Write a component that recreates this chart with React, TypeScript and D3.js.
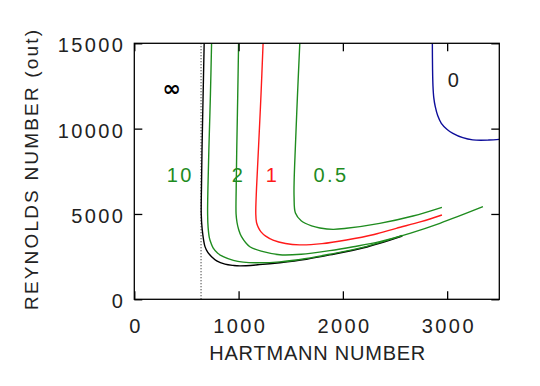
import React, { useRef, useEffect } from 'react';
import * as d3 from 'd3';

const hartmannTicks = [0, 1000, 2000, 3000];
const reynoldsTicks = [0, 5000, 10000, 15000];

// critical curves (Hartmann, Reynolds)
const infH = [670, 660, 650, 644, 642, 651, 677, 705, 741, 790, 870, 950, 1012, 1200, 1395, 1650, 1874, 2200, 2570];
const infRe = [15000, 12000, 9000, 6500, 5000, 4100, 3100, 2750, 2500, 2250, 2060, 1985, 1960, 2030, 2145, 2350, 2600, 3020, 3710];

const tenH = [741, 730, 716, 706, 703, 708, 720, 738, 757, 800, 853, 950, 1044, 1200, 1395, 1650, 1874, 2200, 2570];
const tenRe = [15000, 12000, 9000, 6500, 5000, 4200, 3600, 3250, 3000, 2700, 2500, 2280, 2180, 2140, 2190, 2390, 2640, 3060, 3750];

const twoH = [1000, 992, 983, 977, 976, 985, 1000, 1028, 1108, 1236, 1395, 1600, 1874, 2100, 2353, 2650, 2930, 3343];
const twoRe = [15000, 12000, 9000, 6500, 5000, 4500, 4100, 3670, 3080, 2790, 2610, 2640, 2850, 3080, 3380, 3880, 4450, 5425];

const oneH = [1235, 1215, 1192, 1172, 1165, 1172, 1190, 1215, 1260, 1330, 1450, 1587, 1800, 2034, 2300, 2512, 2750, 2950];
const oneRe = [15000, 12000, 9000, 6500, 5000, 4500, 4200, 3950, 3700, 3470, 3270, 3190, 3260, 3475, 3800, 4160, 4550, 4940];

const halfH = [1587, 1565, 1545, 1533, 1532, 1545, 1600, 1700, 1780, 1906, 2034, 2353, 2672, 2950];
const halfRe = [15000, 12000, 9000, 7000, 6000, 5050, 4600, 4300, 4180, 4100, 4160, 4450, 4880, 5390];

const zeroH = [2858, 2860, 2864, 2872, 2886, 2910, 2944, 3000, 3055, 3150, 3246, 3400, 3500];
const zeroRe = [15000, 13500, 12500, 11800, 11285, 10750, 10312, 9950, 9726, 9470, 9340, 9330, 9370];

const asymptoteH = 640;

const labelText = ['∞', '10', '2', '1', '0.5', '0'];
const labelH = [358, 430, 988, 1314, 1874, 3059];
const labelRe = [11900, 6900, 6900, 6900, 6900, 12450];

const GREEN = '#1f8c1f';
const FONT = '"Liberation Sans", Arial, sans-serif';

export default function App() {
    const svgRef = useRef<SVGSVGElement>(null);

    useEffect(() => {
        if (!svgRef.current) return;
        const width = 540, height = 386;
        const svg = d3.select(svgRef.current);
        svg.selectAll('*').remove();

        const margin = { top: 43.3, right: 40.7, bottom: 86.7, left: 134.3 };
        const x = d3.scaleLinear().domain([0, 3500]).range([margin.left, width - margin.right]);
        const y = d3.scaleLinear().domain([0, 15000]).range([height - margin.bottom, margin.top]);

        svg.append('defs').append('clipPath').attr('id', 'plot-clip')
            .append('rect')
            .attr('x', x(0)).attr('y', y(15000))
            .attr('width', x(3500) - x(0)).attr('height', y(0) - y(15000));

        const curves = [
            { h: infH, re: infRe, color: '#000' },
            { h: tenH, re: tenRe, color: GREEN },
            { h: twoH, re: twoRe, color: GREEN },
            { h: oneH, re: oneRe, color: '#ff1a1a' },
            { h: halfH, re: halfRe, color: GREEN },
            { h: zeroH, re: zeroRe, color: '#0d0d9a' },
        ];

        const line = d3.line<[number, number]>()
            .x(d => x(d[0]))
            .y(d => y(d[1]))
            .curve(d3.curveCatmullRom.alpha(0.5));

        const plot = svg.append('g').attr('clip-path', 'url(#plot-clip)');

        // dotted asymptote
        plot.append('line')
            .attr('x1', x(asymptoteH)).attr('x2', x(asymptoteH))
            .attr('y1', y(0)).attr('y2', y(15000))
            .attr('stroke', '#333')
            .attr('stroke-width', 1)
            .attr('stroke-dasharray', '1.2,1.8');

        plot.selectAll('path.curve')
            .data(curves)
            .join('path')
            .attr('class', 'curve')
            .attr('d', c => line(c.h.map((h, i) => [h, c.re[i]] as [number, number])))
            .attr('fill', 'none')
            .attr('stroke', c => c.color)
            .attr('stroke-width', 1.4);

        // axes: inward ticks on all four sides
        const tick = 8;
        const styleAxis = (g: d3.Selection<SVGGElement, unknown, null, undefined>) => {
            g.select('.domain').remove();
            g.selectAll('line').attr('stroke', '#000').attr('stroke-width', 1.3);
            g.selectAll('text')
                .attr('font-family', FONT)
                .attr('font-size', 20)
                .attr('letter-spacing', 2.4)
                .attr('fill', '#222');
        };

        svg.append('g')
            .attr('transform', `translate(0,${y(0)})`)
            .call(d3.axisBottom(x).tickValues(hartmannTicks).tickFormat(d3.format('d'))
                .tickSizeInner(-tick).tickSizeOuter(0).tickPadding(20))
            .call(styleAxis)
            .selectAll('text').attr('dx', 1.2);

        svg.append('g')
            .attr('transform', `translate(0,${y(15000)})`)
            .call(d3.axisTop(x).tickValues(hartmannTicks).tickFormat(() => '')
                .tickSizeInner(-tick).tickSizeOuter(0))
            .call(styleAxis);

        svg.append('g')
            .attr('transform', `translate(${x(0)},0)`)
            .call(d3.axisLeft(y).tickValues(reynoldsTicks).tickFormat(d3.format('d'))
                .tickSizeInner(-tick).tickSizeOuter(0).tickPadding(9))
            .call(styleAxis)
            .selectAll('text').attr('dy', '0.42em');

        svg.append('g')
            .attr('transform', `translate(${x(3500)},0)`)
            .call(d3.axisRight(y).tickValues(reynoldsTicks).tickFormat(() => '')
                .tickSizeInner(-tick).tickSizeOuter(0))
            .call(styleAxis);

        svg.append('rect')
            .attr('x', x(0)).attr('y', y(15000))
            .attr('width', x(3500) - x(0)).attr('height', y(0) - y(15000))
            .attr('fill', 'none')
            .attr('stroke', '#000')
            .attr('stroke-width', 1.3);

        // curve labels
        const labelColor = ['#000', GREEN, GREEN, '#ff1a1a', GREEN, '#222'];
        svg.selectAll('text.curve-label')
            .data(labelText)
            .join('text')
            .attr('class', 'curve-label')
            .attr('x', (_, i) => x(labelH[i]))
            .attr('y', (_, i) => y(labelRe[i]))
            .attr('text-anchor', 'middle')
            .attr('dx', (d) => d === '∞' ? 0 : 1.2)
            .attr('font-family', d => d === '∞' ? '"DejaVu Sans", sans-serif' : FONT)
            .attr('font-weight', d => d === '∞' ? 'bold' : 'normal')
            .attr('font-size', d => d === '∞' ? 22 : 20)
            .attr('letter-spacing', d => d === '∞' ? 0 : 2.4)
            .attr('fill', (_, i) => labelColor[i])
            .text(d => d);

        // axis titles
        svg.append('text')
            .attr('x', 209.3).attr('y', 360)
            .attr('font-family', FONT)
            .attr('font-size', 20)
            .attr('fill', '#222')
            .attr('textLength', 216)
            .attr('lengthAdjust', 'spacing')
            .text('HARTMANN NUMBER');

        svg.append('text')
            .attr('transform', 'translate(38.3,310) rotate(-90)')
            .attr('font-family', FONT)
            .attr('font-size', 19)
            .attr('fill', '#222')
            .attr('textLength', 280)
            .attr('lengthAdjust', 'spacing')
            .text('REYNOLDS NUMBER (out)');
    }, []);

    return (
        <div style={{ position: 'absolute', left: 0, top: 0, background: '#fff' }}>
            <svg ref={svgRef} width={540} height={386} viewBox="0 0 540 386" />
        </div>
    );
}
